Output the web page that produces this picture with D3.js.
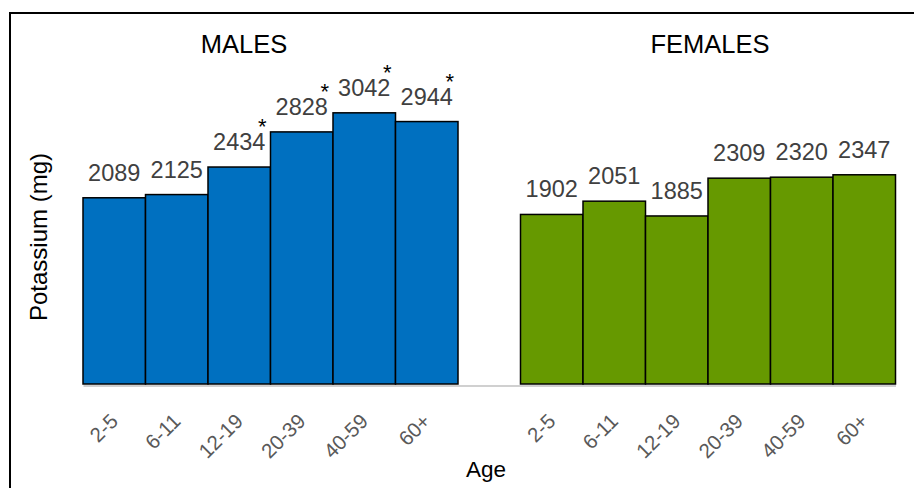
<!DOCTYPE html>
<html>
<head>
<meta charset="utf-8">
<script src="https://cdn.jsdelivr.net/npm/d3@7"></script>
<style>
  html, body { margin: 0; padding: 0; background: #fff; }
  svg { display: block; font-family: "Liberation Sans", Arial, sans-serif; }
</style>
</head>
<body>
<svg id="chart" width="914" height="488"></svg>
<script>
// ---- data ----
const ageGroups = ["2-5", "6-11", "12-19", "20-39", "40-59", "60+"];
const maleValues = [2089, 2125, 2434, 2828, 3042, 2944];
const femaleValues = [1902, 2051, 1885, 2309, 2320, 2347];
const maleSignificant = [false, false, true, true, true, true];
const femaleSignificant = [false, false, false, false, false, false];
const groupTitles = ["MALES", "FEMALES"];
const yAxisTitle = "Potassium (mg)";
const xAxisTitle = "Age";

const svg = d3.select("#chart");

// frame
svg.append("rect")
  .attr("x", 10).attr("y", 13).attr("width", 1000).attr("height", 1000)
  .attr("fill", "none").attr("stroke", "#000").attr("stroke-width", 2);

// build records
const records = [];
ageGroups.forEach((a, i) => records.push({ key: "M|" + a, age: a, value: maleValues[i], sig: maleSignificant[i], sex: "M" }));
const slots = records.map(d => d.key).concat(["gap"]);
ageGroups.forEach((a, i) => records.push({ key: "F|" + a, age: a, value: femaleValues[i], sig: femaleSignificant[i], sex: "F" }));
ageGroups.forEach(a => slots.push("F|" + a));

const x = d3.scaleBand().domain(slots).range([83, 895.5]).padding(0);
const y = d3.scaleLinear().domain([0, 3500]).range([384, 72]);

const colors = { M: "#0070C0", F: "#669900" };

// bars
svg.append("g").selectAll("rect").data(records).join("rect")
  .attr("x", d => x(d.key))
  .attr("y", d => y(d.value))
  .attr("width", x.bandwidth())
  .attr("height", d => y(0) - y(d.value))
  .attr("fill", d => colors[d.sex])
  .attr("stroke", "#000")
  .attr("stroke-width", 1.5);

// x axis
const xAxis = d3.axisBottom(x)
  .tickValues(records.map(d => d.key))
  .tickFormat(k => k.split("|")[1])
  .tickSize(0)
  .tickSizeOuter(0);
const gx = svg.append("g").attr("transform", `translate(0,${y(0) + 1.5})`).call(xAxis);
gx.select(".domain").attr("stroke", "#c0c0c0").attr("stroke-width", 1.5);
gx.selectAll(".tick text")
  .attr("fill", "#595959")
  .style("font-size", "20.5px")
  .style("font-family", "'Liberation Sans', Arial, sans-serif")
  .attr("text-anchor", "end")
  .attr("x", 0).attr("y", 0).attr("dy", 0)
  .attr("transform", "translate(5,37) rotate(-45)");

// value labels (with significance asterisk as a positioned tspan)
const labels = svg.append("g").selectAll("text").data(records).join("text")
  .attr("x", d => x(d.key) + x.bandwidth() / 2)
  .attr("y", d => y(d.value) - 17)
  .attr("text-anchor", "middle")
  .attr("font-size", 23.5)
  .attr("fill", "#404040");
labels.append("tspan").text(d => d.value);
labels.filter(d => d.sig).append("tspan")
  .attr("x", d => x(d.key) + x.bandwidth() / 2 + 23)
  .attr("y", d => y(d.value) - 33)
  .attr("font-size", 22)
  .attr("fill", "#000")
  .text("*");

// group titles
svg.append("text").attr("x", 244).attr("y", 53).attr("text-anchor", "middle")
  .attr("font-size", 25.5).attr("fill", "#000").text(groupTitles[0]);
svg.append("text").attr("x", 710).attr("y", 53).attr("text-anchor", "middle")
  .attr("font-size", 25.5).attr("fill", "#000").text(groupTitles[1]);

// axis titles
svg.append("text").attr("transform", "translate(47,237) rotate(-90)")
  .attr("text-anchor", "middle").attr("font-size", 24).attr("fill", "#000").text(yAxisTitle);
svg.append("text").attr("x", 486).attr("y", 477).attr("text-anchor", "middle")
  .attr("font-size", 22.5).attr("fill", "#000").text(xAxisTitle);
</script>
</body>
</html>
